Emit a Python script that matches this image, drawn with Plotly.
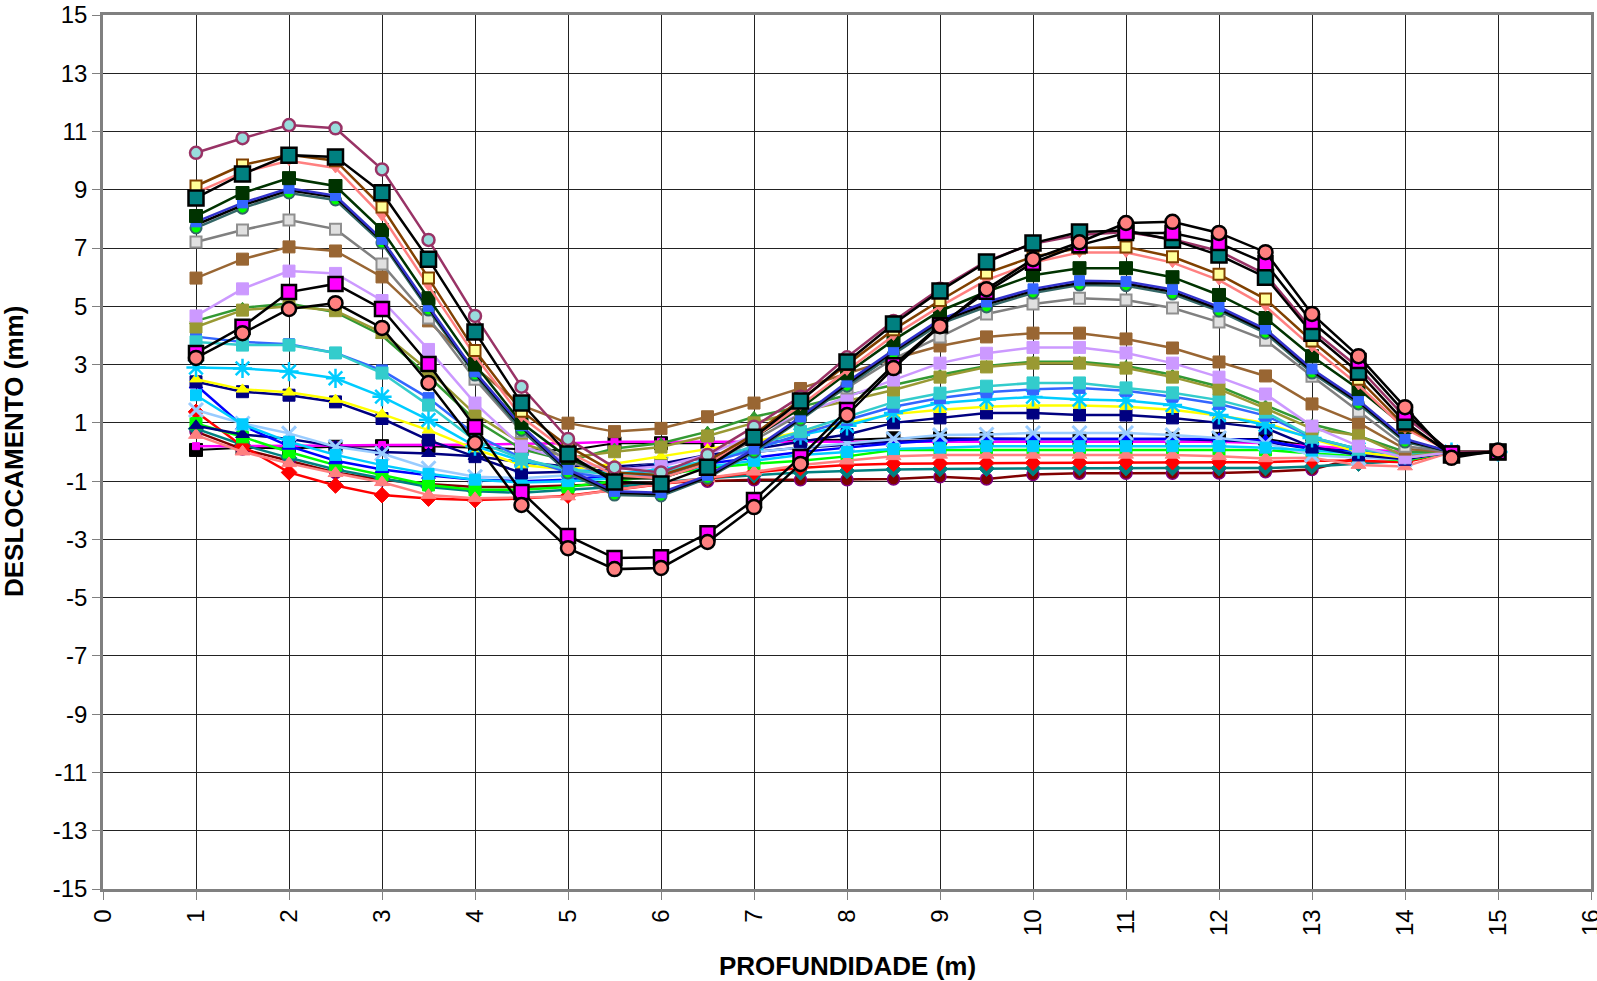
import plotly.graph_objects as go

# Depth (m)
profundidade = [1, 1.5, 2, 2.5, 3, 3.5, 4, 4.5, 5, 5.5, 6, 6.5, 7, 7.5, 8, 8.5, 9, 9.5,
                10, 10.5, 11, 11.5, 12, 12.5, 13, 13.5, 14, 14.5, 15]

# Displacement series (mm)
s_preto_quad = [0.07, 0.15, 0.12, 0.18, 0.2, 0.2, 0.15, 0.1, 0.05, 0.3, 0.3, 0.3, 0.35, 0.4, 0.42, 0.47, 0.47, 0.45, 0.45, 0.45, 0.45, 0.45, 0.45, 0.45, 0.2, 0.0, -0.1, -0.1, 0.0]
s_magenta_peq = [0.2, 0.2, 0.2, 0.22, 0.24, 0.24, 0.25, 0.28, 0.3, 0.35, 0.35, 0.35, 0.35, 0.35, 0.35, 0.35, 0.35, 0.35, 0.35, 0.35, 0.35, 0.35, 0.35, 0.3, 0.2, 0.1, 0.0, 0.0, 0.0]
s_vinho = [0.7, 0.1, -0.3, -0.7, -0.95, -1.1, -1.2, -1.2, -1.15, -1.1, -1.05, -1.0, -0.95, -0.95, -0.95, -0.93, -0.85, -0.93, -0.77, -0.73, -0.73, -0.73, -0.72, -0.68, -0.6, -0.2, -0.2, 0.0, 0.0]
s_teal_losango = [0.8, 0.25, -0.2, -0.6, -0.9, -1.2, -1.35, -1.4, -1.3, -1.2, -1.05, -0.9, -0.8, -0.7, -0.65, -0.6, -0.58, -0.57, -0.56, -0.55, -0.55, -0.55, -0.55, -0.55, -0.5, -0.4, -0.3, 0.0, 0.0]
s_vermelho = [1.38, 0.2, -0.7, -1.15, -1.48, -1.6, -1.65, -1.6, -1.5, -1.3, -1.1, -0.9, -0.7, -0.55, -0.45, -0.4, -0.39, -0.38, -0.37, -0.36, -0.35, -0.35, -0.35, -0.35, -0.3, -0.3, -0.35, 0.0, 0.0]
s_verde_quad = [0.98, 0.52, 0.0, -0.45, -0.79, -1.13, -1.3, -1.3, -1.2, -1.0, -0.8, -0.55, -0.4, -0.3, -0.15, 0.07, 0.07, 0.05, 0.07, 0.07, 0.07, 0.07, 0.07, 0.07, -0.05, -0.15, -0.3, 0.0, 0.0]
s_salmao_tri = [0.58, 0.01, -0.39, -0.73, -1.04, -1.48, -1.59, -1.55, -1.53, -1.3, -1.1, -0.9, -0.68, -0.45, -0.3, -0.15, -0.1, -0.1, -0.1, -0.1, -0.1, -0.1, -0.15, -0.22, -0.2, -0.45, -0.5, 0.0, 0.0]
s_navy_tri = [0.9, 0.6, 0.45, 0.2, 0.0, -0.05, -0.15, -0.35, -0.5, -0.5, -0.4, -0.2, 0.0, 0.15, 0.25, 0.35, 0.4, 0.45, 0.45, 0.45, 0.45, 0.45, 0.4, 0.35, 0.1, 0.0, -0.1, 0.0, 0.0]
s_azul_tri = [2.3, 0.9, 0.2, -0.3, -0.6, -0.8, -0.95, -1.0, -0.95, -0.8, -0.6, -0.4, -0.2, 0.0, 0.15, 0.3, 0.4, 0.45, 0.45, 0.45, 0.45, 0.45, 0.45, 0.4, 0.1, 0.0, -0.1, 0.0, 0.0]
s_azulclaro_x = [1.44, 0.98, 0.64, 0.18, -0.05, -0.56, -0.85, -0.9, -0.8, -0.6, -0.4, -0.2, 0.0, 0.15, 0.3, 0.45, 0.58, 0.6, 0.65, 0.65, 0.65, 0.58, 0.48, 0.3, -0.1, -0.2, -0.25, 0.0, 0.0]
s_celeste_quad = [1.95, 0.95, 0.35, -0.1, -0.45, -0.75, -0.95, -1.05, -1.0, -0.9, -0.7, -0.5, -0.3, -0.1, 0.0, 0.1, 0.15, 0.2, 0.2, 0.2, 0.2, 0.2, 0.2, 0.15, 0.05, -0.05, -0.15, 0.0, 0.0]
s_navy_quad = [2.41, 2.07, 1.95, 1.72, 1.15, 0.41, -0.16, -0.72, -0.68, -0.6, -0.4, -0.1, 0.1, 0.35, 0.6, 1.0, 1.17, 1.34, 1.34, 1.27, 1.27, 1.17, 1.0, 0.82, 0.17, -0.1, -0.25, 0.0, 0.0]
s_amarelo = [2.5, 2.15, 2.05, 1.8, 1.3, 0.75, 0.1, -0.45, -0.6, -0.4, -0.15, 0.1, 0.35, 0.7, 1.0, 1.3, 1.45, 1.55, 1.6, 1.6, 1.55, 1.45, 1.25, 1.0, 0.45, 0.0, -0.2, 0.0, 0.0]
s_ciano_ast = [2.9, 2.87, 2.76, 2.53, 1.9, 1.1, 0.2, -0.3, -0.6, -0.75, -0.6, -0.3, 0.1, 0.58, 0.9, 1.34, 1.68, 1.8, 1.89, 1.8, 1.77, 1.61, 1.27, 0.93, 0.48, 0.1, -0.1, 0.0, 0.0]
s_azul_quad = [3.96, 3.78, 3.7, 3.4, 2.8, 1.85, 0.6, -0.2, -0.7, -0.9, -0.8, -0.4, 0.1, 0.6, 1.1, 1.55, 1.85, 2.05, 2.15, 2.2, 2.1, 1.9, 1.65, 1.25, 0.5, 0.1, -0.1, 0.0, 0.0]
s_turquesa = [3.78, 3.67, 3.67, 3.4, 2.71, 1.61, 0.4, -0.24, -0.6, -0.8, -0.7, -0.3, 0.2, 0.7, 1.2, 1.71, 2.02, 2.26, 2.37, 2.37, 2.2, 2.03, 1.78, 1.37, 0.51, 0.1, -0.1, 0.0, 0.0]
s_verde_tri = [4.5, 4.95, 5.1, 4.8, 4.0, 2.6, 1.1, 0.1, -0.3, 0.12, 0.3, 0.7, 1.21, 1.55, 1.95, 2.3, 2.65, 2.95, 3.1, 3.1, 2.95, 2.65, 2.25, 1.6, 0.95, 0.55, 0.0, 0.0, 0.0]
s_oliva = [4.29, 4.87, 5.0, 4.85, 4.1, 2.8, 1.3, 0.3, -0.2, 0.01, 0.17, 0.55, 1.0, 1.4, 1.75, 2.13, 2.57, 2.92, 3.05, 3.05, 2.88, 2.57, 2.16, 1.5, 0.8, 0.57, -0.15, 0.0, 0.0]
s_lilas = [4.67, 5.6, 6.21, 6.13, 5.2, 3.52, 1.68, 0.2, -0.3, -0.6, -0.5, -0.1, 0.6, 1.3, 1.89, 2.47, 3.05, 3.39, 3.59, 3.59, 3.4, 3.05, 2.57, 1.99, 0.89, 0.2, -0.2, 0.0, 0.0]
s_marrom = [5.97, 6.62, 7.04, 6.9, 6.01, 4.5, 2.9, 1.6, 0.99, 0.7, 0.81, 1.21, 1.68, 2.18, 2.7, 3.2, 3.64, 3.95, 4.08, 4.08, 3.88, 3.57, 3.09, 2.61, 1.65, 1.0, 0.1, 0.0, 0.0]
s_cinza = [7.21, 7.62, 7.96, 7.65, 6.45, 4.6, 2.5, 0.7, -0.3, -0.9, -0.9, -0.4, 0.4, 1.3, 2.2, 3.2, 3.95, 4.74, 5.08, 5.28, 5.22, 4.94, 4.46, 3.84, 2.6, 1.4, 0.2, 0.0, 0.0]
s_verde_circ = [7.69, 8.37, 8.89, 8.65, 7.17, 4.87, 2.64, 0.75, -0.72, -1.48, -1.51, -0.9, 0.0, 1.1, 2.26, 3.36, 4.4, 4.98, 5.46, 5.73, 5.71, 5.42, 4.84, 4.08, 2.71, 1.65, 0.34, 0.0, 0.0]
s_preto_linha = [7.8, 8.47, 8.98, 8.74, 7.25, 4.95, 2.7, 0.85, -0.65, -1.4, -1.45, -0.85, 0.05, 1.15, 2.33, 3.45, 4.48, 5.07, 5.53, 5.8, 5.78, 5.5, 4.91, 4.15, 2.78, 1.72, 0.4, 0.0, 0.0]
s_azul_escuro = [7.9, 8.55, 9.05, 8.8, 7.3, 5.0, 2.75, 0.9, -0.6, -1.35, -1.4, -0.8, 0.1, 1.2, 2.4, 3.5, 4.55, 5.15, 5.6, 5.88, 5.85, 5.58, 4.98, 4.22, 2.85, 1.78, 0.45, 0.0, 0.0]
s_verde_escuro = [8.1, 8.89, 9.4, 9.13, 7.62, 5.28, 3.0, 1.0, -0.2, -0.9, -0.9, -0.4, 0.5, 1.5, 2.7, 3.84, 4.84, 5.5, 6.07, 6.31, 6.31, 6.0, 5.39, 4.6, 3.29, 2.16, 0.86, 0.0, 0.0]
s_salmao_linha = [8.9, 9.6, 10.0, 9.75, 8.1, 5.7, 3.3, 1.2, 0.0, -0.8, -0.9, -0.4, 0.5, 1.6, 2.8, 4.0, 5.0, 5.9, 6.5, 6.85, 6.85, 6.5, 5.9, 5.0, 3.6, 2.3, 0.8, 0.0, 0.0]
s_amarelo_quad = [9.13, 9.85, 10.2, 10.0, 8.41, 5.97, 3.48, 1.4, 0.2, -0.7, -0.8, -0.3, 0.6, 1.8, 3.0, 4.2, 5.2, 6.14, 6.7, 7.0, 7.04, 6.7, 6.1, 5.25, 3.81, 2.5, 0.9, 0.0, 0.0]
s_bordo_circ = [10.27, 10.77, 11.22, 11.11, 9.7, 7.28, 4.67, 2.24, 0.45, -0.53, -0.7, -0.1, 0.87, 1.9, 3.25, 4.5, 5.6, 6.55, 7.15, 7.45, 7.55, 7.3, 6.9, 6.1, 4.2, 2.9, 1.2, 0.0, 0.0]
s_teal_quad = [8.72, 9.54, 10.19, 10.13, 8.9, 6.62, 4.12, 1.68, -0.07, -1.03, -1.1, -0.52, 0.51, 1.75, 3.09, 4.39, 5.53, 6.52, 7.17, 7.55, 7.6, 7.28, 6.76, 6.0, 4.08, 2.74, 1.03, -0.1, 0.0]
s_magenta_quad = [3.4, 4.3, 5.49, 5.77, 4.91, 3.02, 0.86, -1.37, -2.88, -3.64, -3.61, -2.79, -1.65, -0.17, 1.44, 2.98, 4.35, 5.5, 6.5, 7.1, 7.52, 7.52, 7.17, 6.48, 4.46, 3.12, 1.35, -0.05, 0.0]
s_salmao_circ = [3.23, 4.08, 4.91, 5.11, 4.26, 2.37, 0.31, -1.82, -3.3, -4.02, -3.98, -3.09, -1.89, -0.41, 1.27, 2.88, 4.32, 5.59, 6.62, 7.2, 7.86, 7.9, 7.52, 6.86, 4.74, 3.29, 1.54, -0.2, 0.05]

x_ticks = list(range(0, 17))
y_ticks = list(range(-15, 16, 2))

# (values, line colour, marker symbol, marker fill, marker edge, marker size, edge width, line width)
series = [
    (s_preto_quad, "#000000", "square", "#000000", "#000000", 13, 1, 2),
    (s_magenta_peq, "#FF00FF", "square", "#FF00FF", "#FF00FF", 7, 1, 2.5),
    (s_vinho, "#800000", "circle", "#800000", "#800080", 12, 1.5, 2.5),
    (s_teal_losango, "#008080", "diamond", "#008080", "#008080", 12, 1, 2.5),
    (s_vermelho, "#FF0000", "diamond", "#FF0000", "#FF0000", 12, 1, 2.5),
    (s_verde_quad, "#00FF00", "square", "#00FF00", "#00FF00", 12, 1, 2.5),
    (s_salmao_tri, "#FF8080", "triangle-up", "#FF8080", "#FF8080", 13, 1, 2.5),
    (s_navy_tri, "#000080", "triangle-up", "#000080", "#000080", 12, 1, 2.5),
    (s_azul_tri, "#0000FF", "triangle-up", "#0000FF", "#0000FF", 12, 1, 2.5),
    (s_azulclaro_x, "#99CCFF", "x-thin-open", "#99CCFF", "#99CCFF", 14, 3, 2.5),
    (s_celeste_quad, "#00CCFF", "square", "#00CCFF", "#00CCFF", 11, 1, 2.5),
    (s_navy_quad, "#000080", "square", "#000080", "#000080", 12, 1, 2.5),
    (s_amarelo, "#FFFF00", "triangle-up", "#FFFF00", "#FFFF00", 11, 1, 2.5),
    (s_ciano_ast, "#00CCFF", "asterisk-open", "#00CCFF", "#00CCFF", 16, 2.5, 2.5),
    (s_azul_quad, "#3366FF", "square", "#3366FF", "#3366FF", 11, 1, 2.5),
    (s_turquesa, "#33CCCC", "square", "#33CCCC", "#33CCCC", 12, 1, 2.5),
    (s_verde_tri, "#339933", "triangle-up", "#339933", "#339933", 11, 1, 2.5),
    (s_oliva, "#999933", "square", "#999933", "#999933", 12, 1, 2.5),
    (s_lilas, "#CC99FF", "square", "#CC99FF", "#CC99FF", 12, 1, 2.5),
    (s_marrom, "#996633", "square", "#996633", "#996633", 12, 1, 2.5),
    (s_cinza, "#808080", "square", "#E0E0E0", "#909090", 11, 2, 2.5),
    (s_verde_circ, "#336666", "circle", "#00FF00", "#336666", 11, 2, 2.5),
    (s_preto_linha, "#000000", "circle", "#000000", "#000000", 1, 0, 2.5),
    (s_azul_escuro, "#3333CC", "square", "#3366FF", "#3366FF", 10, 1, 2.5),
    (s_verde_escuro, "#003300", "square", "#003300", "#003300", 13, 1, 2.5),
    (s_salmao_linha, "#FF8080", "triangle-down", "#FF8080", "#FF8080", 10, 1, 2.5),
    (s_amarelo_quad, "#804000", "square", "#FFFF99", "#804000", 11, 2, 2.5),
    (s_bordo_circ, "#993366", "circle", "#99DDDD", "#993366", 12, 2.5, 2.5),
    (s_teal_quad, "#000000", "square", "#008080", "#000000", 15, 2.5, 2.5),
    (s_magenta_quad, "#000000", "square", "#FF00FF", "#000000", 14, 2.5, 2.5),
    (s_salmao_circ, "#000000", "circle", "#FF8080", "#000000", 14, 2.5, 2.5),
]

fig = go.Figure()
for vals, lc, sym, fill, edge, size, ew, lw in series:
    fig.add_trace(go.Scatter(
        x=profundidade, y=vals, mode="lines+markers",
        line=dict(color=lc, width=lw),
        marker=dict(symbol=sym, color=fill, size=size,
                    line=dict(color=edge, width=ew)),
        showlegend=False, hoverinfo="x+y",
    ))

font_family = "Liberation Sans, Arial, sans-serif"
tick_size = 24
title_size = 26
fig.update_layout(
    width=1597, height=981,
    margin=dict(l=103, r=6, t=15, b=92, autoexpand=False),
    paper_bgcolor="white", plot_bgcolor="white",
    font=dict(family=font_family, size=tick_size, color="black"),
    showlegend=False,
    xaxis=dict(
        range=[0, 16], tickvals=x_ticks, ticktext=[str(v) for v in x_ticks],
        tickangle=-90, ticks="outside", ticklen=8, tickcolor="#808080",
        showgrid=True, gridcolor="#222222", gridwidth=1,
        showline=True, linecolor="#808080", linewidth=2.5, mirror=True,
        zeroline=False, automargin=False, ticklabeloverflow="allow",
        tickfont=dict(size=tick_size, family=font_family, color="black"),
    ),
    yaxis=dict(
        range=[-15, 15], tickvals=y_ticks, ticktext=[str(v) for v in y_ticks],
        ticks="outside", ticklen=8, tickcolor="#808080",
        showgrid=True, gridcolor="#222222", gridwidth=1,
        showline=True, linecolor="#808080", linewidth=2.5, mirror=True,
        zeroline=False, automargin=False, ticklabeloverflow="allow",
        tickfont=dict(size=tick_size, family=font_family, color="black"),
    ),
    annotations=[
        dict(text="<b>PROFUNDIDADE (m)</b>", xref="paper", yref="paper",
             x=0.5, y=-0.088, xanchor="center", yanchor="middle",
             showarrow=False, font=dict(size=title_size, family=font_family, color="black")),
        dict(text="<b>DESLOCAMENTO (mm)</b>", xref="paper", yref="paper",
             x=-0.0598, y=0.5, xanchor="center", yanchor="middle", textangle=-90,
             showarrow=False, font=dict(size=title_size, family=font_family, color="black")),
    ],
)

fig.write_html(
    "out.html",
    config={"displayModeBar": False},
    post_script="document.body.style.margin='0px';document.body.style.overflow='hidden';",
)
